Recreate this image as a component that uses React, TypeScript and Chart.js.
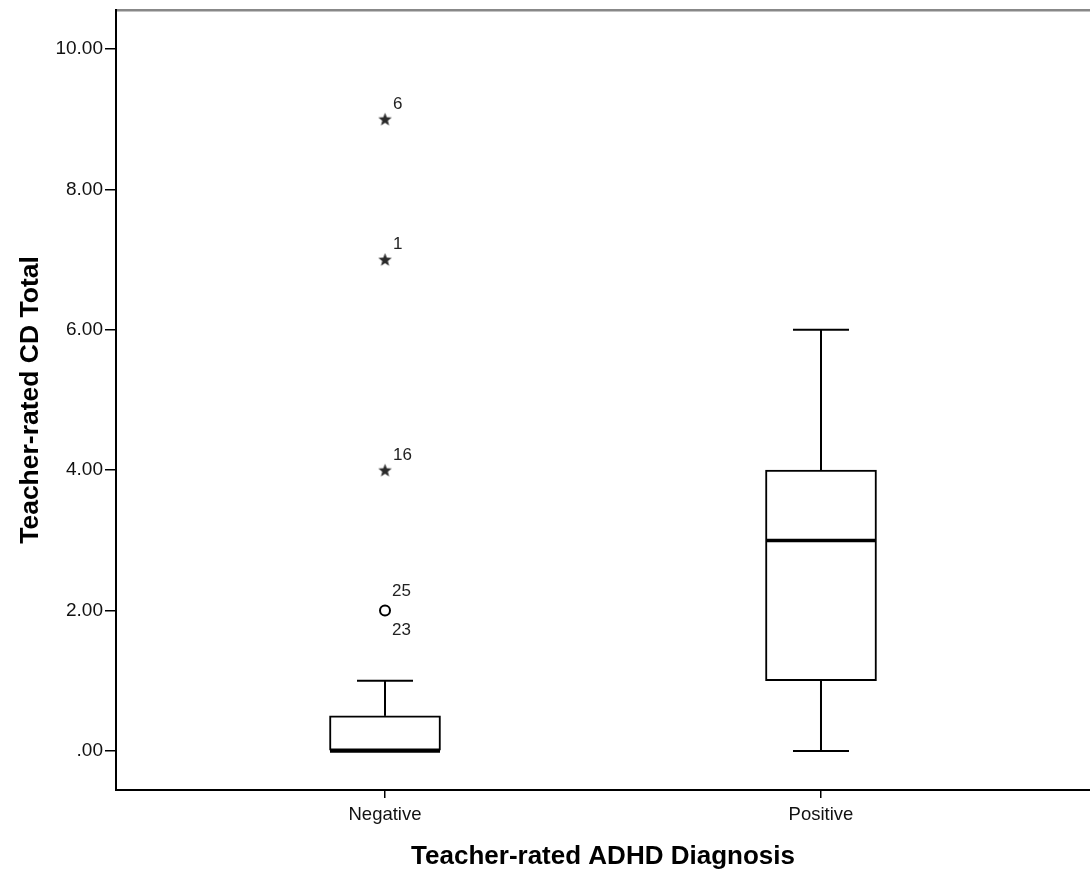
import React, { useEffect, useRef } from "react";
import { Chart, registerables } from "chart.js";

Chart.register(...registerables);

// ---- data ----
const categories = ["Negative", "Positive"];
const q1 = [0, 1];
const median = [0, 3];
const q3 = [0.5, 4];
const whiskerLow = [0, 0];
const whiskerHigh = [1, 6];

const outlierCat = [0];
const outlierValues = [2];
const outlierLabelsAbove = ["25"];
const outlierLabelsBelow = ["23"];

const extremeCat = [0, 0, 0];
const extremeValues = [4, 7, 9];
const extremeLabels = ["16", "1", "6"];

const yTicks = [0, 2, 4, 6, 8, 10];
const yTickLabels = [".00", "2.00", "4.00", "6.00", "8.00", "10.00"];

const yTitle = "Teacher-rated CD Total";
const xTitle = "Teacher-rated ADHD Diagnosis";

const FONT = "'Liberation Sans', Arial, sans-serif";

function makeStar(size: number, color: string): HTMLCanvasElement {
  const c = document.createElement("canvas");
  c.width = size;
  c.height = size;
  const ctx = c.getContext("2d")!;
  const cx = size / 2;
  const cy = size / 2 + 0.5;
  const R = size / 2 - 0.5;
  const r = R * 0.42;
  ctx.beginPath();
  for (let i = 0; i < 10; i++) {
    const ang = -Math.PI / 2 + (i * Math.PI) / 5;
    const rad = i % 2 === 0 ? R : r;
    const px = cx + rad * Math.cos(ang);
    const py = cy + rad * Math.sin(ang);
    if (i === 0) ctx.moveTo(px, py);
    else ctx.lineTo(px, py);
  }
  ctx.closePath();
  ctx.fillStyle = color;
  ctx.fill();
  return c;
}

const pointLabelPlugin = {
  id: "pointLabels",
  afterDatasetsDraw(chart: any) {
    const xs = chart.scales.x;
    const ys = chart.scales.y;
    const ctx = chart.ctx;
    ctx.save();
    ctx.fillStyle = "#222";
    ctx.font = `17px ${FONT}`;
    ctx.textAlign = "left";
    ctx.textBaseline = "middle";
    extremeValues.forEach((v, i) => {
      const px = xs.getPixelForValue(extremeCat[i]);
      const py = ys.getPixelForValue(v);
      ctx.fillText(extremeLabels[i], px + 8, py - 15);
    });
    outlierValues.forEach((v, i) => {
      const px = xs.getPixelForValue(outlierCat[i]);
      const py = ys.getPixelForValue(v);
      ctx.fillText(outlierLabelsAbove[i], px + 7, py - 19);
      ctx.fillText(outlierLabelsBelow[i], px + 7, py + 20);
    });
    ctx.restore();
  },
};

export default function App() {
  const ref = useRef<HTMLCanvasElement | null>(null);

  useEffect(() => {
    if (!ref.current) return;
    const star = makeStar(15, "#2a2a2a");

    const boxData = categories.map((_, i) => ({ x: i, y: [q1[i], q3[i]] }));
    const medianData = categories.map((_, i) => ({ x: i, y: median[i] }));
    const capData: any[] = [];
    categories.forEach((_, i) => {
      capData.push({ x: i, y: whiskerHigh[i] });
      capData.push({ x: i, y: whiskerLow[i] });
    });
    const stemDatasets = categories.flatMap((_, i) => [
      {
        type: "line" as const,
        data: [
          { x: i, y: q3[i] },
          { x: i, y: whiskerHigh[i] },
        ],
        borderColor: "#000",
        borderWidth: 2,
        pointRadius: 0,
        order: 5,
      },
      {
        type: "line" as const,
        data: [
          { x: i, y: q1[i] },
          { x: i, y: whiskerLow[i] },
        ],
        borderColor: "#000",
        borderWidth: 2,
        pointRadius: 0,
        order: 5,
      },
    ]);

    const chart = new Chart(ref.current, {
      type: "bar",
      data: {
        datasets: [
          {
            type: "bar",
            data: boxData as any,
            backgroundColor: "#fff",
            borderColor: "#000",
            borderWidth: 2,
            borderSkipped: false,
            barThickness: 111,
            order: 3,
          } as any,
          ...stemDatasets,
          {
            type: "scatter",
            data: capData,
            pointStyle: "line",
            pointRadius: 28,
            pointBorderWidth: 2,
            pointBorderColor: "#000",
            order: 2,
          } as any,
          {
            type: "scatter",
            data: medianData,
            pointStyle: "line",
            pointRadius: 55,
            pointBorderWidth: 3.5,
            pointBorderColor: "#000",
            order: 1,
          } as any,
          {
            type: "scatter",
            data: outlierValues.map((v, i) => ({ x: outlierCat[i], y: v })),
            pointStyle: "circle",
            pointRadius: 5,
            pointBorderWidth: 2,
            pointBorderColor: "#000",
            pointBackgroundColor: "#fff",
            order: 0,
          } as any,
          {
            type: "scatter",
            data: extremeValues.map((v, i) => ({ x: extremeCat[i], y: v })),
            pointStyle: star,
            order: 0,
          } as any,
        ],
      },
      options: {
        animation: false,
        responsive: false,
        events: [],
        layout: { autoPadding: false, padding: { top: 10, right: 0, bottom: 0, left: 0 } },
        plugins: { legend: { display: false }, tooltip: { enabled: false } },
        scales: {
          x: {
            type: "linear",
            position: "bottom",
            min: -0.617,
            max: 1.617,
            offset: false,
            afterBuildTicks: (s: any) => {
              s.ticks = categories.map((_, i) => ({ value: i }));
            },
            afterFit: (s: any) => {
              s.height = 82;
              s.paddingLeft = 0;
              s.paddingRight = 0;
            },
            ticks: {
              callback: (v: any) => categories[v] ?? "",
              color: "#111",
              font: { family: FONT, size: 18.5 },
              padding: 6,
              maxRotation: 0,
              autoSkip: false,
            },
            grid: {
              drawOnChartArea: false,
              drawTicks: true,
              tickLength: 8,
              color: "#000",
              lineWidth: 1.5,
              offset: false,
            },
            border: { display: true, color: "#000", width: 2 },
            title: {
              display: true,
              text: xTitle,
              color: "#000",
              font: { family: FONT, size: 26, weight: "bold" },
              padding: { top: 0, bottom: 0 },
            },
          },
          xTop: {
            type: "linear",
            position: "top",
            display: true,
            min: 0,
            max: 1,
            ticks: { display: false },
            grid: { drawOnChartArea: false, drawTicks: false },
            border: { display: true, color: "#888", width: 2.5 },
            afterFit: (s: any) => {
              s.height = 0;
              s.paddingLeft = 0;
              s.paddingRight = 0;
            },
          },
          y: {
            type: "linear",
            min: -0.556,
            max: 10.556,
            afterBuildTicks: (s: any) => {
              s.ticks = yTicks.map((v) => ({ value: v }));
            },
            afterFit: (s: any) => {
              s.width = 116;
              s.paddingTop = 0;
              s.paddingBottom = 0;
            },
            ticks: {
              callback: (v: any) => yTickLabels[yTicks.indexOf(v)] ?? "",
              color: "#111",
              font: { family: FONT, size: 19 },
              padding: 2,
            },
            grid: {
              drawOnChartArea: false,
              drawTicks: true,
              tickLength: 11,
              color: "#000",
              lineWidth: 1.5,
            },
            border: { display: true, color: "#000", width: 2 },
            title: {
              display: true,
              text: yTitle,
              color: "#000",
              font: { family: FONT, size: 26.5, weight: "bold" },
              padding: { top: 15, bottom: 0 },
            },
          },
        },
      } as any,
      plugins: [pointLabelPlugin],
    });

    return () => chart.destroy();
  }, []);

  return (
    <div style={{ position: "fixed", left: 0, top: 0, width: 1090, height: 872, background: "#fff" }}>
      <canvas ref={ref} width={1090} height={872} style={{ display: "block", width: 1090, height: 872 }} />
    </div>
  );
}
